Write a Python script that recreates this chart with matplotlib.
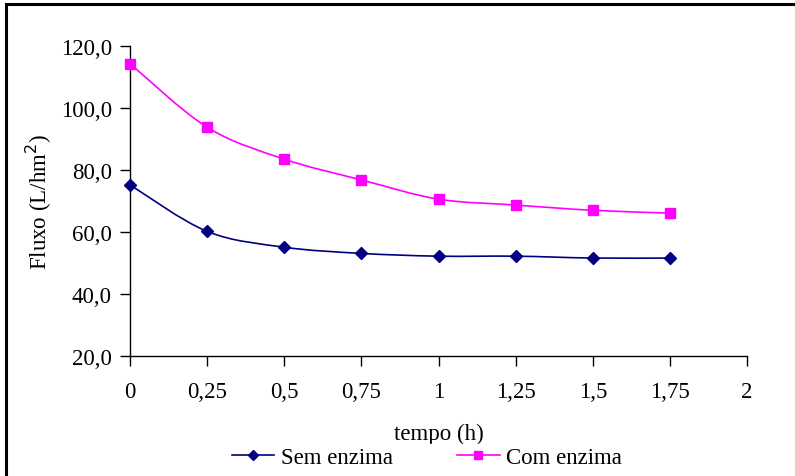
import matplotlib
matplotlib.use("Agg")
import matplotlib.pyplot as plt
from matplotlib.path import Path
from matplotlib.patches import PathPatch, Rectangle
from matplotlib.lines import Line2D
import numpy as np

tempo = [0, 0.25, 0.5, 0.75, 1.0, 1.25, 1.5, 1.75]
sem_enzima = [75.2, 60.2, 55.1, 53.1, 52.2, 52.2, 51.6, 51.6]
com_enzima = [114.3, 93.8, 83.5, 76.8, 70.6, 68.7, 67.0, 66.1]
yticks = [20, 40, 60, 80, 100, 120]
xticks = [0, 0.25, 0.5, 0.75, 1.0, 1.25, 1.5, 1.75, 2.0]
xticklabels = ["0", "0,25", "0,5", "0,75", "1", "1,25", "1,5", "1,75", "2"]
yticklabels = ["20,0", "40,0", "60,0", "80,0", "100,0", "120,0"]

plt.rcParams['font.family'] = ['Liberation Serif', 'DejaVu Serif']
FS = 16.5

fig = plt.figure(figsize=(7.95, 4.77), dpi=100)
ax = fig.add_axes([130/795, 1-357/477, (747-130)/795, (357-47)/477])

def smooth_path(x, y):
    pts = np.column_stack([x, y]).astype(float)
    n = len(pts)
    verts = [pts[0]]
    codes = [Path.MOVETO]
    for i in range(n-1):
        p0 = pts[i-1] if i > 0 else pts[i]
        p1 = pts[i]
        p2 = pts[i+1]
        p3 = pts[i+2] if i+2 < n else pts[i+1]
        c1 = p1 + (p2 - p0)/6.0
        c2 = p2 - (p3 - p1)/6.0
        verts += [c1, c2, p2]
        codes += [Path.CURVE4]*3
    return Path(verts, codes)

series = [(sem_enzima, '#000080', 'D', 6.5, 'Sem enzima'),
          (com_enzima, '#FF00FF', 's', 7.5, 'Com enzima')]
handles = []
for vals, col, mk, ms, lab in series:
    ax.add_patch(PathPatch(smooth_path(tempo, vals), fill=False, edgecolor=col, lw=1.2, zorder=2))
    ax.plot(tempo, vals, linestyle='none', marker=mk, color=col, markersize=ms, zorder=3, clip_on=False)
    handles.append(Line2D([0], [0], color=col, lw=1.2, marker=mk, markersize=ms*0.75, label=lab))

ax.set_xlim(0, 2)
ax.set_ylim(20, 120)
ax.set_xticks(xticks)
ax.set_xticklabels(xticklabels)
ax.set_yticks(yticks)
ax.set_yticklabels(yticklabels)
for s in ['top', 'right']:
    ax.spines[s].set_visible(False)
for s in ['left', 'bottom']:
    ax.spines[s].set_linewidth(1.0)
    ax.spines[s].set_color('black')
ax.tick_params(axis='x', direction='out', length=7, width=1, pad=11, labelsize=FS)
ax.tick_params(axis='y', direction='out', length=7, width=1, pad=6, labelsize=FS)
ax.set_ylabel("Fluxo (L/hm$^2$)", fontsize=FS, labelpad=5)
ax.set_xlabel("tempo (h)", fontsize=FS, labelpad=15)

leg = fig.legend(handles=handles, loc='center', bbox_to_anchor=(427/795, 1-458/477),
                 ncol=2, frameon=True, fontsize=FS, handlelength=1.85, handletextpad=0.3,
                 columnspacing=2.8, borderpad=0.1, borderaxespad=0)
leg.get_frame().set_edgecolor('white')
leg.get_frame().set_facecolor('white')
leg.get_frame().set_alpha(1.0)
leg.get_frame().set_boxstyle('square', pad=0.0)
leg.set_zorder(10)

fig.add_artist(Rectangle((6/795, -0.05), 1.0, 1-5/477+0.05, transform=fig.transFigure,
                         fill=False, edgecolor='black', lw=2.2, clip_on=False))

fig.savefig("out.png", dpi=100)
